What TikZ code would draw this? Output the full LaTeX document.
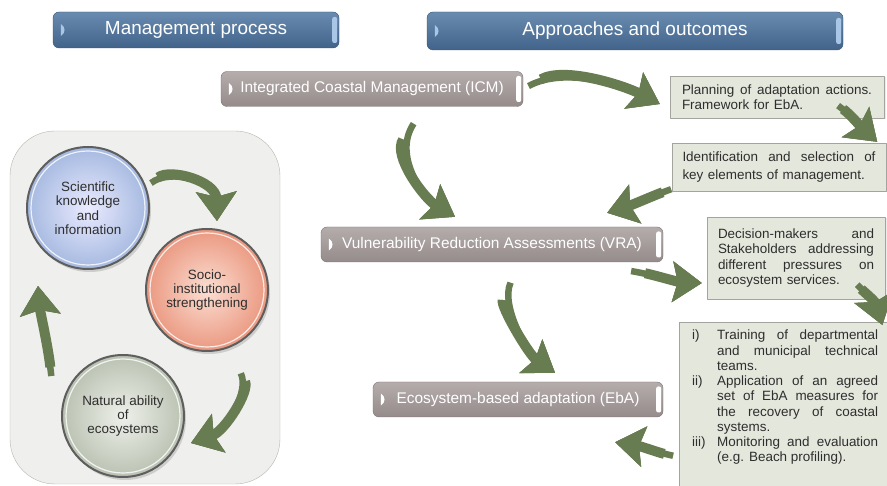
\documentclass[tikz,border=0pt]{standalone}
\usepackage{fontspec}
\setmainfont{Liberation Sans}
\usetikzlibrary{arrows.meta,shadows}
\definecolor{hdrtop}{HTML}{6A8BB0}
\definecolor{hdrbot}{HTML}{42648A}
\definecolor{hdrline}{HTML}{34506F}
\definecolor{hdrtab}{HTML}{A9C6E6}
\definecolor{pilltop}{HTML}{B5ACAC}
\definecolor{pillbot}{HTML}{958B8B}
\definecolor{pillline}{HTML}{7A7171}
\definecolor{boxfill}{HTML}{E4E7DC}
\definecolor{boxline}{HTML}{A4A49E}
\definecolor{panelfill}{HTML}{EFEFED}
\definecolor{panelline}{HTML}{B8B4AF}
\definecolor{ringgray}{HTML}{5E5E5E}
\definecolor{arrowgreen}{HTML}{687C52}
\definecolor{textgray}{HTML}{2E2E2E}
\newcommand{\jline}[2]{\makebox[#1][s]{\spaceskip=0pt\xspaceskip=0pt #2}}
\begin{document}
\begin{tikzpicture}[>=latex,line join=bevel,
  header/.style={rounded corners=6bp,draw=hdrline,top color=hdrtop,bottom color=hdrbot,text=white,font=\fontsize{19}{22}\selectfont},
  pill/.style={rounded corners=6bp,draw=pillline,top color=pilltop,bottom color=pillbot,text=white,minimum height=35bp,font=\fontsize{15.5}{18}\selectfont},
  txtbox/.style={draw=boxline,fill=boxfill,text=textgray,align=left,font=\fontsize{13.5}{15.3}\selectfont,
    drop shadow={shadow xshift=1.5bp,shadow yshift=-1.5bp,opacity=0.15}},
  ball/.style={circle,minimum size=122bp,inner sep=0pt,align=center,draw=ringgray,line width=2bp,text=textgray,font=\fontsize{13.5}{14.5}\selectfont,drop shadow={shadow xshift=2bp,shadow yshift=-3bp,opacity=0.3}},
  brush/.style={draw=arrowgreen,line width=10bp,shorten <=#1,-{Stealth[width=40bp,length=29bp,inset=5bp]},
    preaction={draw=arrowgreen,line width=3bp,-{Stealth[width=40bp,length=29bp,inset=5bp]}},
    preaction={draw=arrowgreen,line width=6.5bp,shorten <=6bp,-{Stealth[width=40bp,length=29bp,inset=5bp]}}},
]
%%
\useasboundingbox (0bp,0bp) rectangle (887bp,486bp);
\node (panel) at (145bp,178.5bp) [draw=panelline,fill=panelfill,rounded corners=45bp,minimum width=270bp,minimum height=353bp] {};
\node (hdr_mgmt) at (196bp,456bp) [header,minimum width=286bp,minimum height=36bp] {Management process};
\node (hdr_appr) at (635bp,455bp) [header,minimum width=416bp,minimum height=38bp] {Approaches and outcomes};
%
\node (node_icm) at (372bp,397bp) [pill,minimum width=302bp] {Integrated Coastal Management (ICM)};
\node (node_vra) at (492bp,241.5bp) [pill,minimum width=342bp] {Vulnerability Reduction Assessments (VRA)};
\node (node_eba) at (518bp,86.5bp) [pill,minimum width=290bp] {Ecosystem-based adaptation (EbA)};
\foreach \n/\c in {hdr_mgmt/hdrtab,hdr_appr/hdrtab,node_icm/white,node_vra/white,node_eba/white} {
  \fill[\c] ([shift={(8bp,-6bp)}]\n.west) .. controls ([shift={(13bp,-3bp)}]\n.west) and ([shift={(13bp,3bp)}]\n.west) .. ([shift={(8bp,6bp)}]\n.west) -- cycle;
  \fill[\c,rounded corners=2bp] ([shift={(-7bp,-13bp)}]\n.east) rectangle ([shift={(-2bp,13bp)}]\n.east);
}
%
\node (node_plan) at (777bp,389bp) [txtbox,text width=190bp,inner xsep=12bp,minimum height=42bp]
  {\jline{190bp}{Planning of adaptation actions.}\\Framework for EbA.};
\node (node_ident) at (779bp,319bp) [txtbox,text width=193bp,inner xsep=10.5bp,minimum height=48bp,font=\fontsize{13.5}{18.5}\selectfont]
  {\jline{193bp}{Identification and selection of}\\key elements of management.};
\node (node_dec) at (796bp,228bp) [txtbox,text width=156bp,inner xsep=11bp,minimum height=82bp]
  {\jline{156bp}{Decision-makers and}\\\jline{156bp}{Stakeholders addressing}\\\jline{156bp}{different pressures on}\\ecosystem services.};
\node (node_list) at (679bp,164bp) [txtbox,anchor=north west,inner xsep=13bp,inner ysep=7bp] {%
  \begin{tabular}{@{}p{25bp}@{}p{161bp}@{}}
  i) & \jline{161bp}{Training of departmental}\\
     & \jline{161bp}{and municipal technical}\\
     & teams.\\
  ii) & \jline{161bp}{Application of an agreed}\\
      & \jline{161bp}{set of EbA measures for}\\
      & \jline{161bp}{the recovery of coastal}\\
      & systems.\\
  iii) & \jline{161bp}{Monitoring and evaluation}\\
       & (e.g. Beach profiling).\\[20bp]
  \end{tabular}};
%
\node (node_sci) at (88bp,278bp) [ball,inner color=blue!8!white,outer color={rgb,255:red,165;green,185;blue,224}] {Scientific\\knowledge\\and\\information};
\node (node_soc) at (207bp,196bp) [ball,inner color={rgb,255:red,252;green,222;blue,210},outer color={rgb,255:red,234;green,152;blue,128}] {Socio-\\institutional\\strengthening};
\node (node_nat) at (123bp,70bp) [ball,inner color={rgb,255:red,238;green,240;blue,234},outer color={rgb,255:red,186;green,194;blue,178}] {Natural ability\\of\\ecosystems};
\foreach \n in {node_sci,node_soc,node_nat}
  \draw[white,line width=1.2bp,opacity=0.8] (\n.center) circle (57bp);
%
\draw[brush=20bp] (node_icm.east) .. controls (565bp,420bp) and (625bp,400bp) .. ([shift={(-10bp,-7bp)}]node_plan.west);
\draw[brush=12bp] ([shift={(-51bp,16bp)}]node_plan.south east) .. controls (850bp,372bp) and (862bp,358bp) .. ([shift={(-9bp,1bp)}]node_ident.north east);
\draw[brush=25bp] ([shift={(45bp,-12bp)}]node_icm.south) .. controls (392bp,330bp) and (425bp,287bp) .. ([shift={(-37bp,10bp)}]node_vra.north);
\draw[brush=15bp] ([shift={(5bp,4bp)}]node_ident.south west) .. controls (655bp,291bp) and (632bp,281bp) .. ([shift={(-56bp,14bp)}]node_vra.north east);
\draw[brush=20bp] ([shift={(-38bp,-8bp)}]node_vra.south east) .. controls (650bp,212bp) and (678bp,204bp) .. ([shift={(-5bp,-25bp)}]node_dec.west);
\draw[brush=12bp] ([shift={(-32bp,19bp)}]node_dec.south east) .. controls (862bp,196bp) and (875bp,185bp) .. ([shift={(-9bp,-3bp)}]node_list.north east);
\draw[brush=25bp] ([shift={(21bp,-15bp)}]node_vra.south) .. controls (500bp,180bp) and (529bp,131bp) .. ([shift={(37bp,9bp)}]node_eba.north);
\draw[brush=15bp] ([shift={(0bp,-135bp)}]node_list.north west) .. controls (660bp,33bp) and (640bp,40bp) .. ([shift={(-48bp,-25bp)}]node_eba.south east);
%
\draw[brush=15bp] (node_sci.20) .. controls (170bp,318bp) and (216bp,305bp) .. ([shift={(10bp,7bp)}]node_soc.north);
\draw[brush=15bp] ([shift={(31bp,-16bp)}]node_soc.south) .. controls (250bp,95bp) and (225bp,55bp) .. ([shift={(6bp,-27bp)}]node_nat.east);
\draw[brush=15bp] ([shift={(-9bp,34bp)}]node_nat.west) .. controls (48bp,140bp) and (40bp,175bp) .. ([shift={(-50bp,-16bp)}]node_sci.south);
%
\end{tikzpicture}
\end{document}
